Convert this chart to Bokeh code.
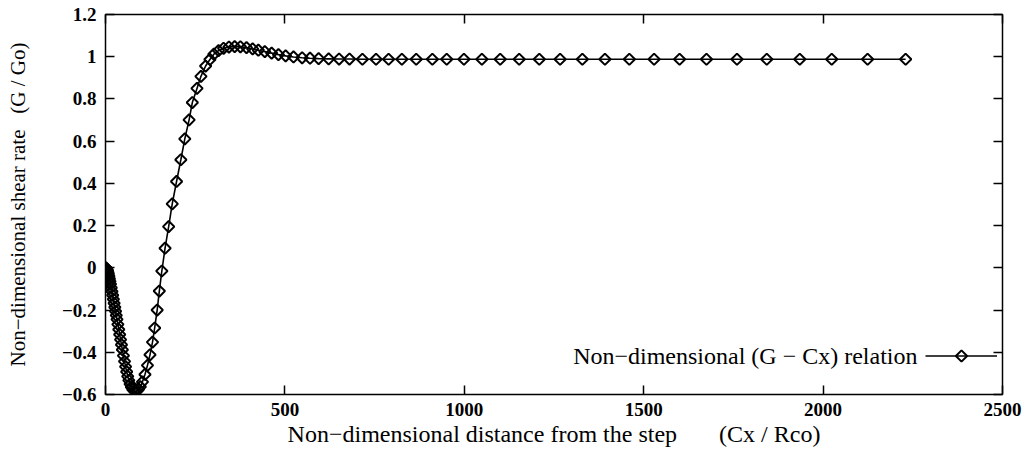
from bokeh.plotting import figure
from bokeh.models import (LinearAxis, FixedTicker, CustomJSTickFormatter, Label,
                          Legend, LegendItem, Range1d, PolyAnnotation,
                          CustomLabelingPolicy)
from bokeh.embed import file_html
from bokeh.resources import INLINE

# ---- data ----
x_vals = [0, 1, 2, 3, 4, 5, 6, 7, 8, 9.5, 11, 12.5, 14, 16, 18, 20, 22, 24, 26, 28,
          30, 32, 34.5, 37, 39.5, 42, 44.5, 47, 50, 53, 56, 59, 62, 65, 68.5, 72, 76,
          80, 84, 88, 92, 97, 103, 110, 117, 124, 131, 137, 144, 150, 157, 166, 176,
          186, 198, 210, 221, 233, 242, 255, 266, 279, 291, 302, 315, 329, 344, 360,
          376, 393, 410, 426, 444, 463, 482, 502, 524, 548, 570, 594, 622, 651, 680,
          716, 754, 789, 826, 866, 911, 951, 999, 1049, 1100, 1153, 1209, 1267, 1329,
          1392, 1460, 1529, 1600, 1675, 1760, 1843, 1935, 2024, 2124, 2230]
y_vals = [0.0, 0.0, -0.002, -0.004, -0.007, -0.011, -0.016, -0.022, -0.029, -0.04,
          -0.052, -0.064, -0.077, -0.094, -0.112, -0.13, -0.149, -0.168, -0.187, -0.206,
          -0.225, -0.244, -0.268, -0.292, -0.316, -0.34, -0.364, -0.388, -0.416, -0.443,
          -0.468, -0.492, -0.514, -0.533, -0.551, -0.565, -0.577, -0.583, -0.585, -0.582,
          -0.575, -0.563, -0.54, -0.505, -0.462, -0.412, -0.352, -0.285, -0.2, -0.11,
          -0.015, 0.093, 0.195, 0.303, 0.409, 0.512, 0.611, 0.701, 0.783, 0.85, 0.907,
          0.956, 0.987, 1.012, 1.029, 1.04, 1.046, 1.048, 1.047, 1.043, 1.037, 1.031,
          1.024, 1.017, 1.01, 1.004, 0.999, 0.995, 0.993, 0.991, 0.99, 0.989, 0.989,
          0.988, 0.988, 0.988, 0.988, 0.988, 0.988, 0.988, 0.988, 0.988, 0.988, 0.988,
          0.988, 0.988, 0.988, 0.988, 0.988, 0.988, 0.988, 0.988, 0.988, 0.988, 0.988,
          0.988, 0.988, 0.988]
x_ticks = [0, 500, 1000, 1500, 2000, 2500]
y_ticks = [-0.6, -0.4, -0.2, 0, 0.2, 0.4, 0.6, 0.8, 1, 1.2]
x_label = "Non\u2212dimensional distance from the step" + "\u00a0" * 7 + "(Cx / Rco)"
y_label = "Non\u2212dimensional shear rate" + "\u00a0" * 3 + "(G / Go)"
series_label = "Non\u2212dimensional (G \u2212 Cx) relation"

SERIF = "Liberation Serif"
MARK_SIZE = 8
MARK_LW = 2.0

p = figure(width=1031, height=450, output_backend="svg", toolbar_location=None,
           x_range=Range1d(0, 2500), y_range=Range1d(-0.6, 1.2),
           min_border_left=105, min_border_right=29, min_border_top=14,
           min_border_bottom=56, x_axis_label=x_label, y_axis_label=y_label)
p.grid.visible = False
p.background_fill_color = "white"
p.border_fill_color = "white"
p.outline_line_color = "black"
p.outline_line_width = 1.5
p.outline_line_alpha = 1.0

y_fmt = CustomJSTickFormatter(code="""
const v = Math.round(tick * 10) / 10;
const s = Math.abs(v).toString();
return (v < 0 ? '\u2212' : '') + s;
""")
blank_fmt = CustomJSTickFormatter(code="return '';")
no_labels = CustomLabelingPolicy(code="""
try { for (let i = 0; i < indices.size; i++) { indices.unset(i) } } catch (e) {}
return indices
""")

def style_axis(ax, ticks, fmt=None, labels=True):
    ax.ticker = FixedTicker(ticks=ticks)
    if fmt is not None:
        ax.formatter = fmt
    ax.axis_line_color = None
    ax.major_tick_in = 9
    ax.major_tick_out = 0
    ax.major_tick_line_color = "black"
    ax.major_tick_line_width = 1.5
    ax.minor_tick_line_color = None
    if labels:
        ax.major_label_text_font = SERIF
        ax.major_label_text_font_style = "bold"
        ax.major_label_text_font_size = "19px"
        ax.major_label_text_color = "black"
    else:
        ax.formatter = blank_fmt
        ax.major_label_policy = no_labels
        ax.major_label_standoff = 0
        ax.major_label_text_font_size = "4px"

xa = p.xaxis[0]
style_axis(xa, x_ticks)
xa.major_label_standoff = 8
xa.axis_label_text_font = SERIF
xa.axis_label_text_font_style = "normal"
xa.axis_label_text_font_size = "24px"
xa.axis_label_text_color = "black"
xa.axis_label_standoff = 2

ya = p.yaxis[0]
style_axis(ya, y_ticks, y_fmt)
ya.major_label_standoff = 9
ya.axis_label_text_font = SERIF
ya.axis_label_text_font_style = "normal"
ya.axis_label_text_font_size = "21px"
ya.axis_label_text_color = "black"
ya.axis_label_standoff = 29

top = LinearAxis()
style_axis(top, x_ticks, labels=False)
p.add_layout(top, "above")
right = LinearAxis()
style_axis(right, y_ticks, labels=False)
p.add_layout(right, "right")

line_r = p.line(x_vals, y_vals, line_color="black", line_width=1.6)
scat_r = p.scatter(x_vals, y_vals, marker="square", size=MARK_SIZE, angle=45,
                   angle_units="deg", line_color="black", line_width=MARK_LW,
                   fill_color=None)

# gnuplot-style key: text on the left, line sample with a diamond on the right
legend = Legend(items=[LegendItem(label="\u00a0", renderers=[line_r])],
                location=(820, 29), glyph_width=72, glyph_height=19, padding=0,
                margin=0, spacing=0, label_standoff=0, label_text_font_size="6px",
                border_line_color=None, background_fill_alpha=0)
p.add_layout(legend)

cx, cy, hw = 856, 38.5, 5.6
p.add_layout(PolyAnnotation(xs=[cx - hw, cx, cx + hw, cx], ys=[cy, cy + hw, cy, cy - hw],
                            xs_units="screen", ys_units="screen",
                            line_color="black", line_alpha=1.0, line_width=MARK_LW,
                            fill_color="white", fill_alpha=0.0))

p.add_layout(Label(x=812, y=39, x_units="screen", y_units="screen",
                   text=series_label, text_align="right", text_baseline="middle",
                   text_font=SERIF, text_font_size="24px", text_color="black"))

open("out.html", "w").write(file_html(p, INLINE))
